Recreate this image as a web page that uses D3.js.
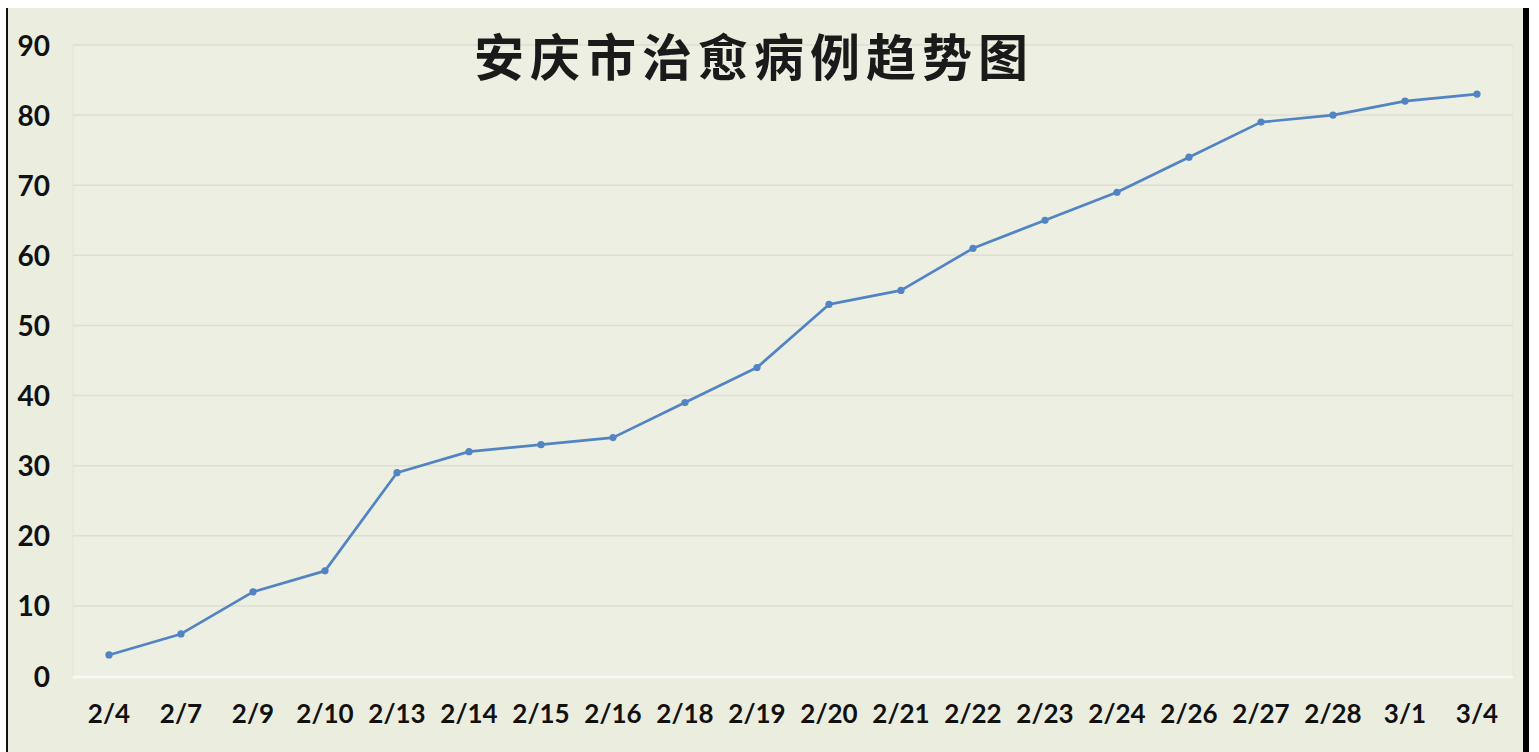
<!DOCTYPE html>
<html><head><meta charset="utf-8">
<script src="https://cdn.jsdelivr.net/npm/d3@7"></script>
<style>html,body{margin:0;padding:0;background:#fff;overflow:hidden}</style>
</head><body>
<svg id="c" width="1539" height="752"></svg>
<script>
const categories = ["2/4","2/7","2/9","2/10","2/13","2/14","2/15","2/16","2/18","2/19","2/20","2/21","2/22","2/23","2/24","2/26","2/27","2/28","3/1","3/4"];
const cured = [3,6,12,15,29,32,33,34,39,44,53,55,61,65,69,74,79,80,82,83];
const yTicks = [0,10,20,30,40,50,60,70,80,90];
const title = "安庆市治愈病例趋势图";

const svg = d3.select("#c");
// frame
svg.append("rect").attr("x",8).attr("y",8).attr("width",1515).attr("height",744).attr("fill","#ebeedf");
svg.append("rect").attr("x",6).attr("y",8).attr("width",2).attr("height",744).attr("fill","#111");
svg.append("rect").attr("x",1523).attr("y",8).attr("width",6).attr("height",744).attr("fill","#000");

const pL = 73, pR = 1513, pT = 45, pB = 676;
const x = d3.scaleBand().domain(categories).range([pL,pR]);
const y = d3.scaleLinear().domain([0,90]).range([pB,pT]);

// plot area faint border
svg.append("rect").attr("x",pL).attr("y",pT).attr("width",pR-pL).attr("height",pB-pT)
  .attr("fill","#ecefe1").attr("stroke","#e2e5d6").attr("stroke-width",1);

// gridlines
svg.append("g").selectAll("line").data(yTicks.filter(d=>d>0)).join("line")
  .attr("x1",pL).attr("x2",pR).attr("y1",d=>y(d)).attr("y2",d=>y(d))
  .attr("stroke","#dcdfd2").attr("stroke-width",1.5);
// zero baseline
svg.append("line").attr("x1",pL).attr("x2",pR).attr("y1",y(0)+1).attr("y2",y(0)+1)
  .attr("stroke","#f8f8f4").attr("stroke-width",3);

const font = "Lato, 'Open Sans', sans-serif";
// y axis labels
const ya = d3.axisLeft(y).tickValues(yTicks).tickSize(0).tickPadding(0);
const gy = svg.append("g").attr("transform","translate(50,0)").call(ya);
gy.select(".domain").remove();
gy.selectAll("text").attr("font-family",font).attr("font-weight","bold").attr("font-size",28)
  .attr("fill","#111").attr("dy","0.36em").attr("text-anchor","end");

// x axis labels
const xa = d3.axisBottom(x).tickSize(0).tickPadding(0);
const gx = svg.append("g").attr("transform","translate(0,703)").call(xa);
gx.select(".domain").remove();
gx.selectAll("text").attr("font-family",font).attr("font-weight","bold").attr("font-size",26)
  .attr("fill","#111").attr("dy","0.76em");

// title
svg.append("text").attr("x",754).attr("y",54).attr("text-anchor","middle").attr("dominant-baseline","central")
  .attr("font-family","'Noto Sans CJK SC'").attr("font-weight","bold").attr("font-size",50)
  .attr("letter-spacing",6).attr("fill","#1a1a1a").text(title);

// line
const cx = d => x(d) + x.bandwidth()/2;
const line = d3.line().x((d,i)=>cx(categories[i])).y(d=>y(d));
svg.append("path").datum(cured).attr("d",line).attr("fill","none")
  .attr("stroke","#5284c4").attr("stroke-width",2.7).attr("stroke-linejoin","round");
svg.append("g").selectAll("circle").data(cured).join("circle")
  .attr("cx",(d,i)=>cx(categories[i])).attr("cy",d=>y(d)).attr("r",3.6).attr("fill","#5284c4");
</script>
</body></html>
